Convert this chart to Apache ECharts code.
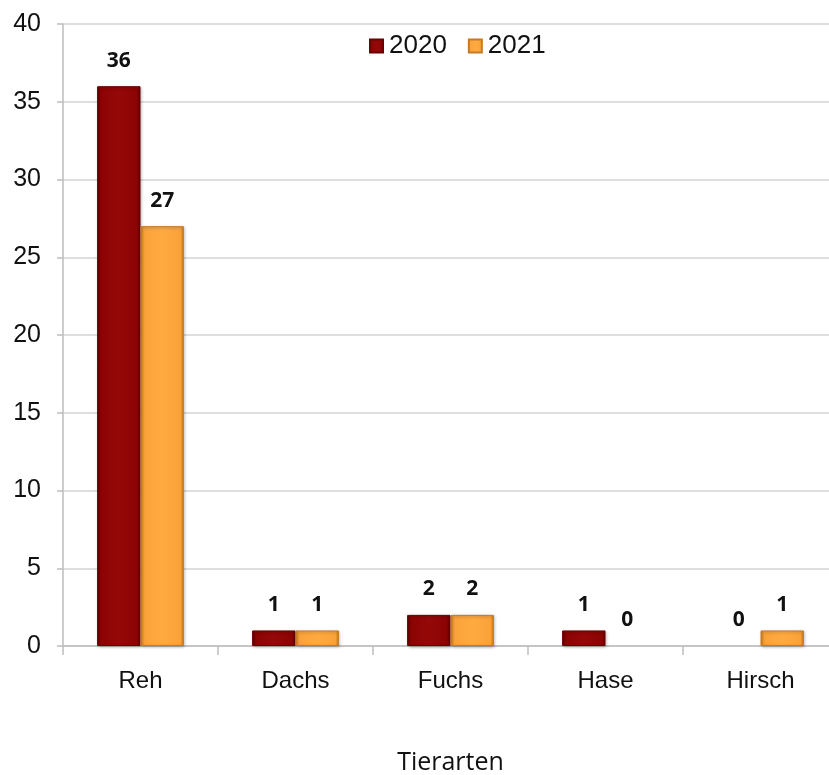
<!DOCTYPE html>
<html>
<head>
<meta charset="utf-8">
<script src="https://cdn.jsdelivr.net/npm/echarts@6/dist/echarts.min.js"></script>
<style>html,body{margin:0;padding:0;background:#fff;}#c{width:829px;height:775px;}</style>
</head>
<body>
<div id="c"></div>
<script>
var categories = ['Reh', 'Dachs', 'Fuchs', 'Hase', 'Hirsch'];
var seriesNames = ['2020', '2021'];
var values2020 = [36, 1, 2, 1, 0];
var values2021 = [27, 1, 2, 0, 1];
var yTicks = [0, 5, 10, 15, 20, 25, 30, 35, 40];

function grad(edge, base, light) {
  return new echarts.graphic.LinearGradient(0, 0, 1, 0, [
    {offset: 0, color: edge}, {offset: 0.08, color: base},
    {offset: 0.5, color: light}, {offset: 0.92, color: base}, {offset: 1, color: edge}
  ]);
}
function toData(arr) {
  return arr.map(function (v) {
    return v === 0 ? {value: v, itemStyle: {borderWidth: 0, opacity: 0}} : v;
  });
}
var chart = echarts.init(document.getElementById('c'));
var labelStyle = {show: true, position: 'top', distance: 15, fontFamily: 'Open Sans, DejaVu Sans, sans-serif', fontWeight: 'bold', fontSize: 21, color: '#111', opacity: 1};
chart.setOption({
  animation: false,
  legend: {
    top: 33, left: 369, padding: 0, itemWidth: 13, itemHeight: 13, itemGap: 21, icon: 'rect',
    textStyle: {fontFamily: 'Liberation Sans, Arial, sans-serif', fontSize: 26, color: '#111', padding: [0, 0, 0, 1]},
    data: seriesNames
  },
  grid: {left: 63, width: 775, top: 24, bottom: 129, containLabel: false, outerBoundsMode: 'none'},
  xAxis: {
    type: 'category', data: categories,
    name: 'Tierarten', nameLocation: 'middle', nameGap: 104,
    nameTextStyle: {fontFamily: 'Open Sans, Noto Sans, sans-serif', fontSize: 25, color: '#111'},
    axisLine: {lineStyle: {color: '#bdbdbd', width: 1.5}},
    axisTick: {show: true, length: 9, lineStyle: {color: '#bdbdbd', width: 1.5}},
    axisLabel: {margin: 23, fontFamily: 'Liberation Sans, Arial, sans-serif', fontSize: 24, color: '#111'}
  },
  yAxis: {
    type: 'value', min: 0, max: 40, interval: 5,
    axisLine: {show: true, lineStyle: {color: '#bdbdbd', width: 1.5}},
    axisTick: {show: true, length: 6, lineStyle: {color: '#bdbdbd', width: 1.5}},
    splitLine: {lineStyle: {color: '#d3d3d3', width: 1.5}},
    axisLabel: {margin: 22, fontFamily: 'Liberation Sans, Arial, sans-serif', fontSize: 25, color: '#111',
      formatter: function (v) { return yTicks.indexOf(v) >= 0 ? String(v) : ''; }}
  },
  series: [
    {name: seriesNames[0], type: 'bar', data: toData(values2020), barGap: '0%', barCategoryGap: '44%',
      itemStyle: {color: grad('#5e0000', '#8b0303', '#950808'), borderColor: '#6a0000', borderWidth: 1,
        shadowColor: 'rgba(0,0,0,0.3)', shadowBlur: 3, shadowOffsetX: 1, shadowOffsetY: 1},
      label: labelStyle},
    {name: seriesNames[1], type: 'bar', data: toData(values2021), barGap: '0%', barCategoryGap: '44%',
      itemStyle: {color: grad('#c97a1c', '#f9a23a', '#ffaa40'), borderColor: '#c57a25', borderWidth: 1,
        shadowColor: 'rgba(0,0,0,0.3)', shadowBlur: 3, shadowOffsetX: 1, shadowOffsetY: 1},
      label: labelStyle}
  ]
});
</script>
</body>
</html>
